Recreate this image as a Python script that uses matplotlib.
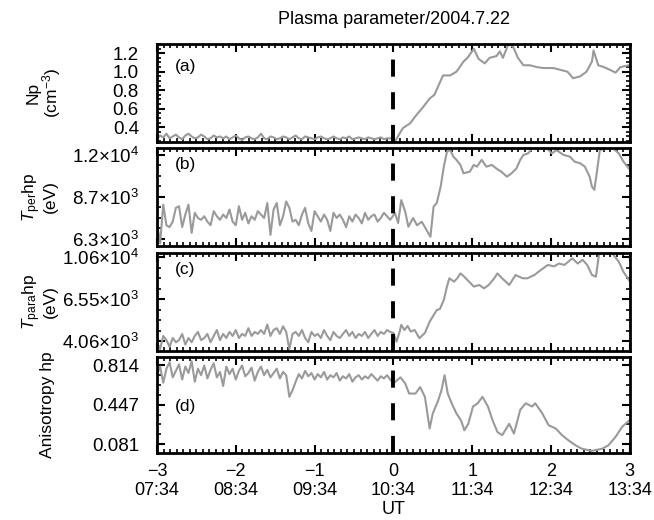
import matplotlib
matplotlib.use('Agg')
import matplotlib.pyplot as plt
import numpy as np
from matplotlib.ticker import FixedLocator, FixedFormatter, NullFormatter, AutoMinorLocator

plt.rcParams['font.family'] = ['Liberation Sans', 'DejaVu Sans']
plt.rcParams['mathtext.fontset'] = 'custom'
plt.rcParams['mathtext.rm'] = 'Liberation Sans'
plt.rcParams['mathtext.it'] = 'Liberation Sans:italic'
plt.rcParams['font.size'] = 12.5

# ---- data (hours from 10:34 UT) ----
a_pre = [0.27, 0.31, 0.29, 0.33, 0.28, 0.30, 0.32, 0.29, 0.27, 0.31, 0.33, 0.30, 0.28, 0.29, 0.32,
         0.30, 0.27, 0.28, 0.31, 0.29, 0.30, 0.28, 0.30, 0.27, 0.29, 0.31, 0.28, 0.26, 0.29, 0.30,
         0.28, 0.27, 0.29, 0.33, 0.28, 0.27, 0.30, 0.29, 0.27, 0.28, 0.30, 0.29, 0.27, 0.29, 0.31,
         0.28, 0.27, 0.30, 0.29, 0.28, 0.27, 0.29, 0.30, 0.28, 0.27, 0.28, 0.30, 0.28, 0.27, 0.29,
         0.28, 0.30, 0.27, 0.28, 0.29, 0.28, 0.27, 0.29, 0.28, 0.27, 0.28, 0.29, 0.27, 0.28, 0.28]
a_t_post = [0.03, 0.12, 0.21, 0.29, 0.37, 0.46, 0.52, 0.63, 0.72, 0.80, 0.89, 0.95, 1.02, 1.08,
            1.16, 1.22, 1.31, 1.35, 1.39, 1.46, 1.52, 1.58, 1.65, 1.73, 1.82, 1.90, 2.03, 2.12,
            2.21, 2.28, 2.37, 2.45, 2.52, 2.54, 2.60, 2.67, 2.75, 2.82, 2.88, 2.99]
a_post = [0.26, 0.39, 0.44, 0.53, 0.61, 0.71, 0.75, 0.96, 0.96, 1.00, 1.11, 1.16, 1.25, 1.14,
          1.09, 1.15, 1.17, 1.22, 1.15, 1.30, 1.27, 1.15, 1.07, 1.07, 1.05, 1.04, 1.04, 1.02,
          1.00, 0.93, 0.95, 1.00, 1.11, 1.23, 1.07, 1.05, 1.02, 0.99, 1.05, 1.07]

b_pre = [7100, 6100, 8200, 7000, 6900, 7200, 8000, 8100, 6900, 7600, 8200, 6600, 7700, 7400, 7300,
         7500, 7200, 7000, 7800, 7500, 7300, 7600, 7400, 7900, 7200, 7000, 8100, 7300, 7700, 7100,
         7500, 7300, 7800, 7600, 7400, 8300, 6500, 7900, 8300, 7000, 7500, 8400, 8000, 7200, 7300,
         7000, 7600, 8000, 7100, 6700, 7800, 7500, 7200, 7600, 7300, 6700, 7700, 7400, 7600, 7300,
         6900, 7500, 7200, 7600, 7400, 7100, 7700, 7300, 7500, 7600, 7200, 7400, 7700, 7500, 7300]
b_t_post = [0.02, 0.06, 0.10, 0.15, 0.19, 0.25, 0.30, 0.36, 0.42, 0.47, 0.51, 0.55, 0.60, 0.64,
            0.68, 0.72, 0.76, 0.80, 0.85, 0.89, 0.97, 1.02, 1.06, 1.12, 1.18, 1.25, 1.31, 1.37,
            1.44, 1.50, 1.56, 1.61, 1.65, 1.71, 1.76, 1.86, 1.95, 2.01, 2.07, 2.16, 2.24, 2.30,
            2.37, 2.43, 2.49, 2.52, 2.55, 2.58, 2.62, 2.71, 2.79, 2.86, 2.92, 2.99]
b_post = [7690, 7120, 8490, 7770, 6920, 7400, 7000, 7190, 6750, 6410, 8070, 8300, 9410, 10970,
          12300, 12470, 11850, 11560, 11120, 10430, 10560, 11120, 10970, 11560, 10970, 11120,
          10800, 10560, 10160, 10430, 10800, 11560, 12000, 12150, 12600, 12650, 12600, 12150,
          12450, 12000, 11850, 11400, 11260, 10970, 10160, 9410, 9180, 10430, 12470, 12600,
          12600, 12150, 11400, 10800]

c_pre = [4000, 3700, 4300, 4100, 3800, 4200, 4000, 4100, 4400, 3900, 4200, 4000, 4300, 4500, 4100,
         4200, 4400, 4000, 4300, 4600, 4100, 4400, 4200, 4500, 4300, 4600, 4200, 4400, 4300, 4700,
         4300, 4500, 4400, 4600, 4400, 4900, 4300, 4600, 4700, 4400, 4800, 4500, 3700, 4400, 4500,
         4300, 4600, 4200, 4000, 4500, 4300, 4400, 4200, 4600, 4300, 4100, 4500, 4300, 4200, 4400,
         4600, 4300, 4500, 4200, 4400, 4300, 4500, 4200, 4400, 4600, 4300, 4500, 4400, 4600, 4500]
c_t_post = [0.00, 0.04, 0.08, 0.10, 0.14, 0.18, 0.22, 0.27, 0.33, 0.40, 0.46, 0.55, 0.59, 0.64,
            0.68, 0.71, 0.77, 0.81, 0.85, 0.90, 0.96, 1.02, 1.09, 1.15, 1.21, 1.28, 1.32, 1.38,
            1.47, 1.55, 1.64, 1.70, 1.79, 1.87, 1.96, 2.04, 2.10, 2.17, 2.27, 2.34, 2.40, 2.46,
            2.52, 2.57, 2.61, 2.69, 2.78, 2.86, 2.92, 2.99]
c_post = [4450, 4030, 4520, 4880, 4600, 4820, 4520, 4600, 4190, 4450, 5060, 5780, 5850, 6490,
          7560, 8310, 8000, 8310, 8790, 8460, 8000, 7560, 7700, 7410, 7700, 8310, 8790, 8310,
          7700, 8630, 8310, 8310, 8630, 9140, 9680, 9520, 9840, 9680, 10440, 9840, 10270, 9680,
          8630, 8460, 11000, 11100, 11000, 10060, 8940, 8140]

d_pre = [0.72, 0.80, 0.65, 0.78, 0.84, 0.70, 0.76, 0.82, 0.68, 0.80, 0.74, 0.85, 0.66, 0.78, 0.72,
         0.81, 0.69, 0.77, 0.83, 0.70, 0.75, 0.62, 0.80, 0.73, 0.78, 0.68, 0.76, 0.81, 0.71, 0.74,
         0.79, 0.67, 0.75, 0.80, 0.72, 0.77, 0.70, 0.74, 0.78, 0.69, 0.75, 0.72, 0.52, 0.58, 0.66,
         0.73, 0.69, 0.76, 0.71, 0.74, 0.68, 0.73, 0.70, 0.75, 0.68, 0.72, 0.70, 0.74, 0.67, 0.71,
         0.69, 0.73, 0.66, 0.70, 0.72, 0.68, 0.71, 0.69, 0.73, 0.70, 0.67, 0.71, 0.69, 0.72, 0.68]
d_t_post = [0.00, 0.09, 0.15, 0.20, 0.28, 0.34, 0.40, 0.46, 0.50, 0.57, 0.61, 0.65, 0.69, 0.74,
            0.80, 0.86, 0.90, 0.95, 1.01, 1.07, 1.13, 1.20, 1.26, 1.32, 1.38, 1.47, 1.53, 1.61,
            1.68, 1.76, 1.80, 1.89, 1.97, 2.06, 2.14, 2.22, 2.31, 2.39, 2.52, 2.65, 2.73, 2.82,
            2.90, 2.99]
d_post = [0.644, 0.70, 0.644, 0.55, 0.55, 0.61, 0.52, 0.227, 0.366, 0.49, 0.58, 0.72, 0.55, 0.46,
          0.366, 0.30, 0.21, 0.27, 0.43, 0.46, 0.52, 0.43, 0.30, 0.195, 0.165, 0.27, 0.18, 0.40,
          0.46, 0.43, 0.46, 0.366, 0.257, 0.227, 0.165, 0.118, 0.072, 0.04, 0.02, 0.04, 0.072,
          0.15, 0.24, 0.30]

x_hours = [-3, -2, -1, 0, 1, 2, 3]
x_labels = ['\u22123\n07:34', '\u22122\n08:34', '\u22121\n09:34', '0\n10:34',
            '1\n11:34', '2\n12:34', '3\n13:34']

panels = [
    dict(pre=a_pre, tp=a_t_post, post=a_post, log=False, ylim=(0.24, 1.30),
         ticks=[0.4, 0.6, 0.8, 1.0, 1.2], labels=['0.4', '0.6', '0.8', '1.0', '1.2'], nminor=4,
         ylabel='Np\n(cm$^{-3}$)', labx=-0.198, tag='(a)', tagy=0.77),
    dict(pre=b_pre, tp=b_t_post, post=b_post, log=True, ylim=(5970, 12660),
         ticks=[6300, 8700, 12000],
         labels=['6.3×10$^{3}$', '8.7×10$^{3}$', '1.2×10$^{4}$'], nminor=4,
         ylabel='$T_{\\mathrm{per}}$hp\n(eV)', labx=-0.21, tag='(b)', tagy=0.83),
    dict(pre=c_pre, tp=c_t_post, post=c_post, log=True, ylim=(3620, 11100),
         ticks=[4060, 6550, 10600],
         labels=['4.06×10$^{3}$', '6.55×10$^{3}$', '1.06×10$^{4}$'], nminor=4,
         ylabel='$T_{\\mathrm{para}}$hp\n(eV)', labx=-0.21, tag='(c)', tagy=0.83),
    dict(pre=d_pre, tp=d_t_post, post=d_post, log=False, ylim=(0.0, 0.888),
         ticks=[0.081, 0.447, 0.814], labels=['0.081', '0.447', '0.814'], nminor=4,
         ylabel='Anisotropy hp', labx=-0.215, tag='(d)', tagy=0.48),
]

boxes = [[0.240, 0.7269, 0.723, 0.1885],
         [0.240, 0.5269, 0.723, 0.1885],
         [0.240, 0.3250, 0.723, 0.1885],
         [0.240, 0.1288, 0.723, 0.1846]]

fig = plt.figure(figsize=(6.54, 5.2), dpi=100)

for i, (p, box) in enumerate(zip(panels, boxes)):
    ax = fig.add_axes(box)
    t = np.concatenate([np.linspace(-3, -0.04, len(p['pre'])), p['tp']])
    v = np.concatenate([p['pre'], p['post']])
    ax.plot(t, v, color='#9a9a9a', lw=1.5)
    ax.axvline(0, color='black', lw=2.8, dashes=(4.4, 4))
    ax.set_xlim(-3, 3)
    if p['log']:
        ax.set_yscale('log')
    ax.set_ylim(*p['ylim'])
    ax.yaxis.set_major_locator(FixedLocator(p['ticks']))
    ax.yaxis.set_major_formatter(FixedFormatter(p['labels']))
    if p['log']:
        lt = np.log10(p['ticks'])
        step = (lt[1] - lt[0]) / p['nminor']
        mins = 10 ** np.arange(lt[0] - 2 * step, lt[-1] + 2 * step, step)
        ax.yaxis.set_minor_locator(FixedLocator(mins))
    else:
        ax.yaxis.set_minor_locator(AutoMinorLocator(p['nminor']))
    ax.yaxis.set_minor_formatter(NullFormatter())

    ax.set_xticks(x_hours)
    ax.xaxis.set_minor_locator(AutoMinorLocator(12))
    if i == 3:
        ax.set_xticklabels(x_labels, fontsize=13)
        ax.set_xlabel('UT', labelpad=1, fontsize=13)
    else:
        ax.set_xticklabels([])

    ax.tick_params(which='major', direction='in', top=True, right=True, length=6, width=1.5)
    ax.tick_params(which='minor', direction='in', top=True, right=True, length=3, width=1.2)
    ax.tick_params(axis='y', which='major', pad=13, labelsize=13.5)
    ax.tick_params(axis='x', which='major', pad=7)
    for s in ax.spines.values():
        s.set_linewidth(2)

    ax.set_ylabel(p['ylabel'], linespacing=1.0)
    ax.yaxis.set_label_coords(p['labx'], 0.5)
    ax.text(0.06, p['tagy'], p['tag'], transform=ax.transAxes, ha='center', va='center')

fig.text(0.602, 0.962, 'Plasma parameter/2004.7.22', ha='center', va='center', fontsize=13)

fig.savefig('out.png', dpi=100)
